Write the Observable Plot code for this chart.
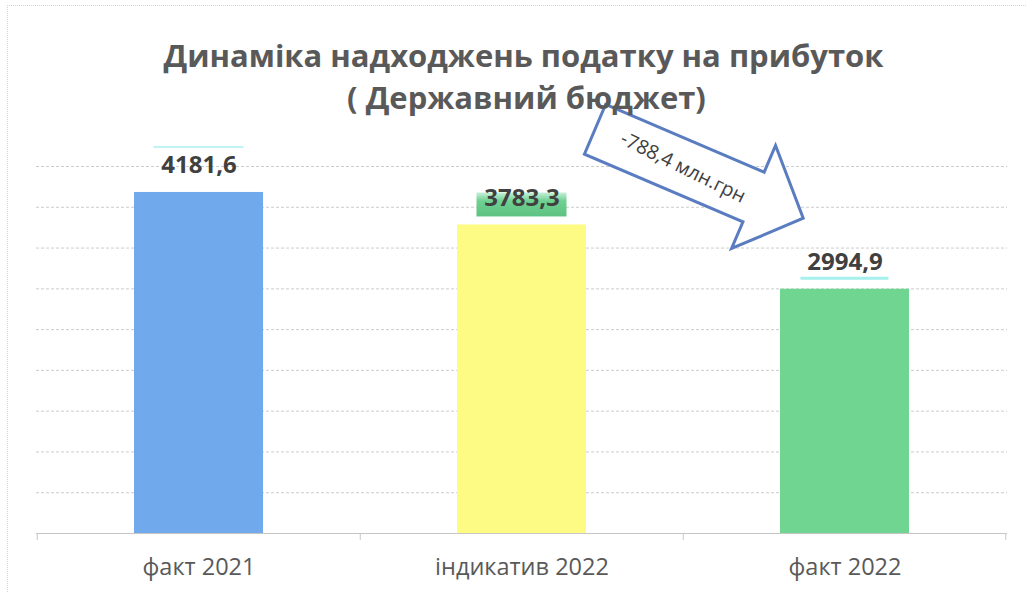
<!DOCTYPE html>
<html>
<head>
<meta charset="utf-8">
<script src="https://cdn.jsdelivr.net/npm/d3@7"></script>
<script src="https://cdn.jsdelivr.net/npm/@observablehq/plot@0.6"></script>
<style>
  html, body { margin: 0; padding: 0; background: #fff; }
  body { font-family: "Open Sans", "Noto Sans", sans-serif; }
  #wrap { position: relative; width: 1027px; height: 593px; overflow: hidden; }
  #frame { position: absolute; left: 7px; top: 5px; right: -5px; bottom: -5px;
           border-left: 1px dotted #d4d4d4; border-top: 1px dotted #d4d4d4; pointer-events: none; }
  #title { position: relative; z-index: 2; height: 90px; text-align: center; color: #595959; font-weight: 700; padding-left: 20px; }
  #title .t1 { padding-top: 34px; font-size: 31px; line-height: 42px; }
  #title .t2 { font-size: 31px; line-height: 42px; padding-left: 6px; }
  #title span { display: inline-block; }
  #chart svg { overflow: visible; display: block; }
</style>
</head>
<body>
<div id="wrap">
  <div id="frame"></div>
  <div id="title"><div class="t1"><span id="t1"></span></div><div class="t2"><span id="t2"></span></div></div>
  <div id="chart"></div>
</div>
<script>
// ---- data ----
const titleText = "Динаміка надходжень податку на прибуток";
const subtitleText = "( Державний бюджет)";
const categories = ["факт 2021", "індикатив 2022", "факт 2022"];
const values = [4181.6, 3783.3, 2994.9];
const barColors = ["#70a9ec", "#fdfb84", "#70d591"];
const gridTicks = [0, 500, 1000, 1500, 2000, 2500, 3000, 3500, 4000, 4500];
const arrowFrom = "індикатив 2022";
const arrowTo = "факт 2022";
const arrowUnit = "млн.грн";

// ---- build ----
document.getElementById("t1").textContent = titleText;
document.getElementById("t2").textContent = subtitleText;

const fmt = v => v.toFixed(1).replace(".", ",");
const data = categories.map((c, i) => ({ category: c, value: values[i], label: fmt(values[i]) }));

const chart = Plot.plot({
  width: 1027,
  height: 503,
  marginTop: 76,
  marginBottom: 60,
  marginLeft: 36,
  marginRight: 20,
  style: { background: "transparent", overflow: "visible", fontFamily: "'Open Sans', sans-serif", fontSize: "23.5px", color: "#595959" },
  x: { domain: categories, paddingInner: 0.6, paddingOuter: 0.3, label: null, tickSize: 0, tickPadding: 25 },
  y: { domain: [0, 4500], axis: null },
  color: { domain: categories, range: barColors },
  marks: [
    Plot.ruleY(gridTicks, { stroke: "#cccccc", strokeDasharray: "3,2", strokeWidth: 1 }),
    Plot.barY(data, { x: "category", y: "value", fill: "category" }),
    Plot.ruleY([0], { stroke: "#c6c6c6", strokeWidth: 1 }),
    Plot.text(data, { x: "category", y: "value", text: "label", dy: -27, fontSize: 24, fontWeight: 700, fill: "#404040" })
  ]
});
document.getElementById("chart").appendChild(chart);

// ---- annotation & tick marks (positions derived from the plot's scales) ----
const xs = chart.scale("x"), ys = chart.scale("y");
const bw = xs.bandwidth;
const step = bw / (1 - 0.6);
const svg = d3.select(chart);
const y0 = ys.apply(0);
const bounds = categories.map(c => xs.apply(c) - 0.3 * step);
bounds.push(xs.apply(categories[categories.length - 1]) + bw + 0.3 * step);
svg.append("g").selectAll("line").data(bounds).join("line")
  .attr("x1", d => d).attr("x2", d => d).attr("y1", y0).attr("y2", y0 + 7)
  .attr("stroke", "#c6c6c6");

// label highlights (as in the scanned original)
const cx = c => xs.apply(c) + bw / 2;
const iFrom = categories.indexOf(arrowFrom), iTo = categories.indexOf(arrowTo);
const hl = svg.append("g");
const grad = svg.append("defs").append("linearGradient").attr("id", "gg").attr("x1", 0).attr("x2", 0).attr("y1", 0).attr("y2", 1);
grad.append("stop").attr("offset", "0").attr("stop-color", "#c8f0dc");
grad.append("stop").attr("offset", "0.35").attr("stop-color", "#6fd092");
grad.append("stop").attr("offset", "1").attr("stop-color", "#5cc281");
hl.append("rect").attr("x", cx(arrowFrom) - 45).attr("y", ys.apply(values[iFrom]) - 32)
  .attr("width", 90).attr("height", 24).attr("fill", "url(#gg)");
hl.append("rect").attr("x", cx(categories[0]) - 45).attr("y", ys.apply(values[0]) - 46)
  .attr("width", 90).attr("height", 2).attr("fill", "#bff3f5");
hl.append("rect").attr("x", cx(arrowTo) - 44).attr("y", ys.apply(values[iTo]) - 12)
  .attr("width", 88).attr("height", 3).attr("fill", "#a6f0ee");
// keep value labels on top
svg.selectAll("g[aria-label='text']").raise();

// arrow
const tail = [cx(arrowFrom) + 0.57 * bw, ys.apply(4950)];
const tip = [cx(arrowTo) - 0.32 * bw, ys.apply(3860)];
const dx = tip[0] - tail[0], dy = tip[1] - tail[1];
const L = Math.hypot(dx, dy);
const ang = Math.atan2(dy, dx) * 180 / Math.PI;
const w = 27, h = 56, hb = L - 54;
const pts = [[0, -w], [hb, -w], [hb, -h], [L, 0], [hb, h], [hb, w], [0, w]];
const ag = svg.append("g").attr("transform", `translate(${tail[0]},${tail[1]}) rotate(${ang})`);
ag.append("polygon").attr("points", pts.map(p => p.join(",")).join(" "))
  .attr("fill", "#fff").attr("stroke", "#5a7cc0").attr("stroke-width", 3).attr("stroke-linejoin", "miter");
ag.append("text").attr("transform", "translate(96,0) rotate(3)").attr("dy", "0.35em").attr("text-anchor", "middle")
  .attr("font-size", 19.5).attr("fill", "#404040").attr("font-family", "'Open Sans', sans-serif")
  .text(fmt(values[iTo] - values[iFrom]) + " " + arrowUnit);
</script>
</body>
</html>
